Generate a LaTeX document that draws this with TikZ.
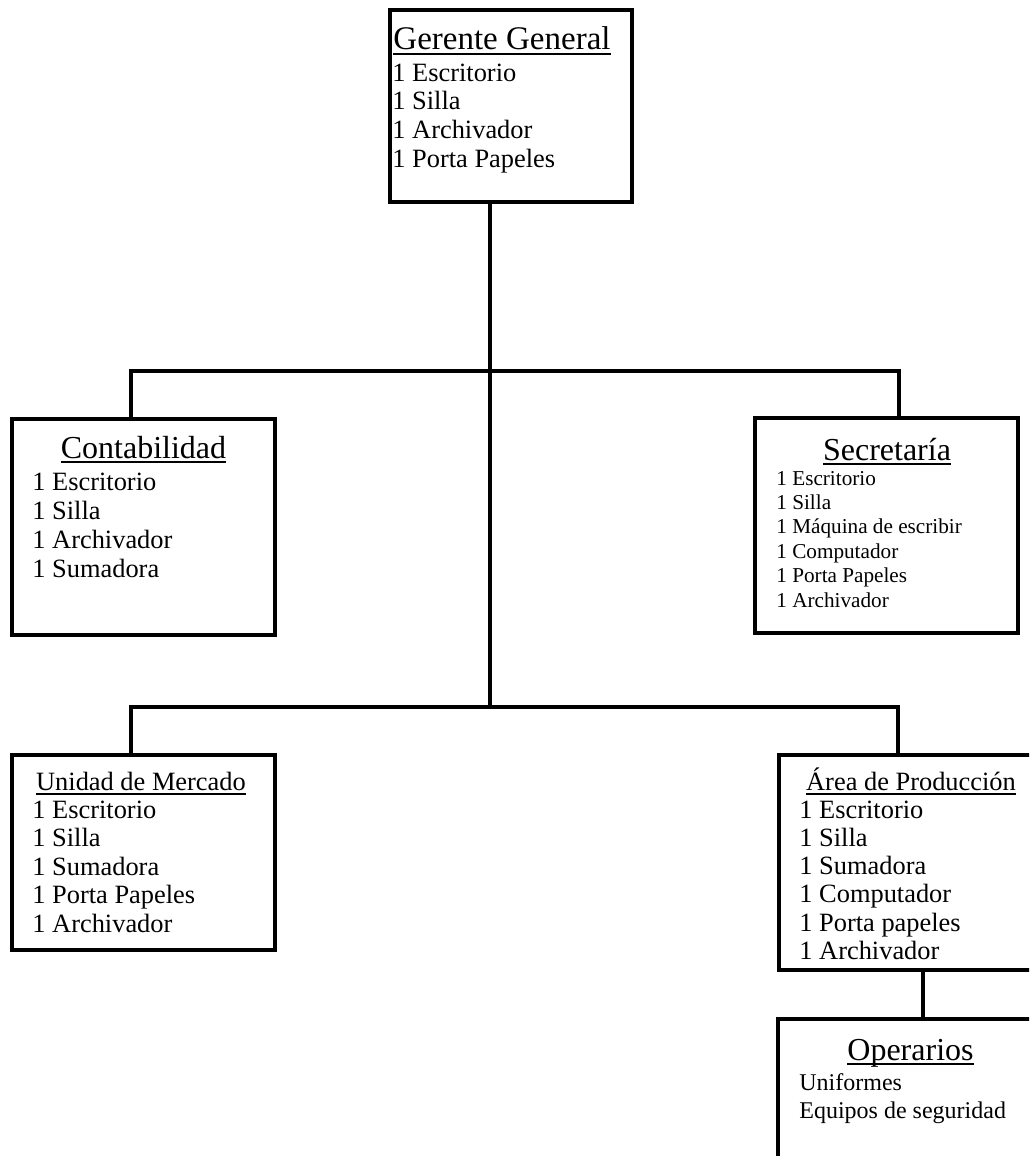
\documentclass[tikz,border=0pt]{standalone}
\usepackage{fontspec}
\setmainfont{Liberation Serif}
\newcommand\ulttl[1]{\setbox0\hbox{#1}\rlap{\rule[-2.4pt]{\wd0}{0.9pt}}\box0}
\tikzset{
  box/.style={draw, rectangle, line width=1.6pt, inner sep=0pt},
  conn/.style={line width=1.6pt},
  item/.style={anchor=base west, inner sep=0pt, font=\fontsize{13.2}{14}\selectfont},
  smallitem/.style={anchor=base west, inner sep=0pt, font=\fontsize{10.6}{12}\selectfont},
  opitem/.style={anchor=base west, inner sep=0pt, font=\fontsize{12}{13}\selectfont},
  ttl/.style={anchor=base, inner sep=0pt, font=\fontsize{16}{18}\selectfont},
  sttl/.style={anchor=base, inner sep=0pt, font=\fontsize{13.2}{14}\selectfont}
}
\begin{document}
\begin{tikzpicture}[x=0.5pt,y=-0.5pt]
\useasboundingbox (0,0) rectangle (1029,1156);
\clip (0,0) rectangle (1029,1156);
% boxes
\node[box, minimum width=121pt, minimum height=96pt] (gg) at (511,106) {};
\node[box, minimum width=131.5pt, minimum height=108pt] (cont) at (143.5,527) {};
\node[box, minimum width=131.5pt, minimum height=107.5pt] (sec) at (886.5,525.5) {};
\node[box, minimum width=131.5pt, minimum height=97.5pt] (um) at (143.5,852.5) {};
\node[box, minimum width=131.5pt, minimum height=107.5pt] (ap) at (910.5,862.5) {};
\node[box, minimum width=131.5pt, minimum height=108pt] (op) at (909.5,1127) {};
% titles
\node[ttl, font=\fontsize{16.5}{18}\selectfont] (ggt) at (502,50) {\ulttl{Gerente General}};
\node[ttl] (contt) at (143.5,458) {\ulttl{Contabilidad}};
\node[ttl] (sect) at (887,460) {\ulttl{Secretaría}};
\node[sttl] (umt) at (141,790) {\ulttl{Unidad de Mercado}};
\node[sttl] (apt) at (911,790) {\ulttl{Área de Producción}};
\node[ttl] (opt) at (910.5,1060) {\ulttl{Operarios}};
% items
\foreach \t [count=\i] in {1 Escritorio, 1 Silla, 1 Archivador, 1 Porta Papeles}
  \node[item] (gg\i) at (392,{53+28.5*\i}) {\t};
\foreach \t [count=\i] in {1 Escritorio, 1 Silla, 1 Archivador, 1 Sumadora}
  \node[item] (cont\i) at (32,{461+29*\i}) {\t};
\foreach \t [count=\i] in {1 Escritorio, 1 Silla, 1 Máquina de escribir, 1 Computador, 1 Porta Papeles, 1 Archivador}
  \node[smallitem] (sec\i) at (776,{460.6+24.4*\i}) {\t};
\foreach \t [count=\i] in {1 Escritorio, 1 Silla, 1 Sumadora, 1 Porta Papeles, 1 Archivador}
  \node[item] (um\i) at (32,{789.5+28.5*\i}) {\t};
\foreach \t [count=\i] in {1 Escritorio, 1 Silla, 1 Sumadora, 1 Computador, 1 Porta papeles, 1 Archivador}
  \node[item] (ap\i) at (799,{789.7+28.3*\i}) {\t};
\foreach \t [count=\i] in {Uniformes, Equipos de seguridad}
  \node[opitem] (op\i) at (799,{1062+28*\i}) {\t};
% junctions
\coordinate (j1) at (490,371);
\coordinate (j2) at (490,707);
\coordinate (l1) at (131,371);
\coordinate (r1) at (899,371);
\coordinate (l2) at (131,707);
\coordinate (r2) at (898,707);
\coordinate (ox) at (923,990);
% connectors
\draw[conn] (j1 |- gg.south) -- (j2);
\draw[conn] (l1 |- cont.north) -- (l1) -- (r1) -- (r1 |- sec.north);
\draw[conn] (l2 |- um.north) -- (l2) -- (r2) -- (r2 |- ap.north);
\draw[conn] (ox |- ap.south) -- (ox |- op.north);
\end{tikzpicture}
\end{document}
